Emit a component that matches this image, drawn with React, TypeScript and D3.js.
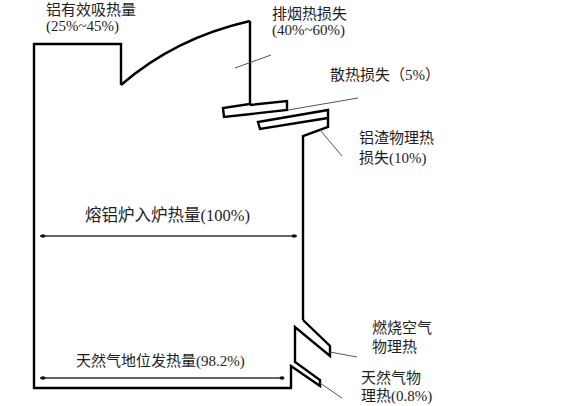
import * as d3 from "d3";
import React from "react";

// flow labels (name, share)
const labelNames = ["铝有效吸热量", "排烟热损失", "散热损失", "铝渣物理热", "燃烧空气", "天然气物"];
const labelShares = ["(25%~45%)", "(40%~60%)", "（5%）", "损失(10%)", "物理热", "理热(0.8%)"];
const inputLabel = "熔铝炉入炉热量(100%)";
const fuelLabel = "天然气地位发热量(98.2%)";

// outline of the schematic, in diagram units
const outlineTop: [number, number][] = [
  [303, 320], [303, 136], [328, 127], [328, 110], [258, 122], [260, 129], [328, 118],
];
const outlineBottom: [number, number][] = [
  [303, 320], [330, 346], [330, 356], [295, 327], [295, 362], [320, 380], [320, 386],
  [291, 366], [291, 388], [34, 388], [34, 44], [121, 44], [121, 85],
];
const exhaustEdge: [number, number][] = [
  [250, 21], [250, 104], [223, 108], [224, 117], [287, 110], [287, 101], [250, 105],
];
const leaders: [number, number, number, number][] = [
  [235, 68, 271, 55],
  [288, 110, 358, 98],
  [320, 130, 342, 156],
  [330, 352, 357, 357],
  [320, 383, 342, 398],
];

function App() {
  const width = 567;
  const height = 406;
  const x = d3.scaleLinear().domain([0, 567]).range([0, width]);
  const y = d3.scaleLinear().domain([0, 406]).range([0, height]);
  const line = d3
    .line<[number, number]>()
    .x((d) => x(d[0]))
    .y((d) => y(d[1]));

  const curvePath = d3.path();
  curvePath.moveTo(x(121), y(85));
  curvePath.quadraticCurveTo(x(175), y(38), x(250), y(21));

  const serif = "'Liberation Serif', 'Noto Sans CJK SC', serif";
  const ink = "#1e1e1e";
  const labelPos: [number, number, number][] = [
    [46, 15, 31],
    [272, 19, 35],
    [330, 80, 80],
    [359, 143, 163],
    [372, 333, 352],
    [361, 383, 401],
  ];

  return (
    <svg
      width={width}
      height={height}
      style={{ position: "absolute", left: 0, top: 0, background: "#fff" }}
    >
      <g fill="none" stroke="#000" strokeWidth={2.4} strokeLinejoin="miter">
        <path d={line(outlineTop) ?? ""} />
        <path d={line(outlineBottom) ?? ""} />
        <path d={line(exhaustEdge) ?? ""} />
        <path d={curvePath.toString()} />
      </g>
      <g stroke="#555" strokeWidth={1}>
        {leaders.map((l, i) => (
          <line key={i} x1={x(l[0])} y1={y(l[1])} x2={x(l[2])} y2={y(l[3])} />
        ))}
      </g>
      {/* dimension lines */}
      <g stroke="#333" strokeWidth={1.3}>
        <line x1={x(40)} y1={y(236)} x2={x(297)} y2={y(236)} />
        <line x1={x(40)} y1={y(378)} x2={x(284)} y2={y(378)} />
      </g>
      <g fill="#111">
        <ellipse cx={x(43)} cy={y(236)} rx={2.5} ry={1.8} />
        <ellipse cx={x(294)} cy={y(236)} rx={2.5} ry={1.8} />
        <ellipse cx={x(43)} cy={y(378)} rx={2.5} ry={1.8} />
        <ellipse cx={x(282)} cy={y(378)} rx={2.5} ry={1.8} />
      </g>
      <g fontFamily={serif} fontSize={15} fill={ink}>
        {labelNames.map((n, i) => {
          const [lx, y1, y2] = labelPos[i];
          if (i === 2) {
            return (
              <text key={i} x={x(lx)} y={y(y1)}>
                {n + labelShares[i]}
              </text>
            );
          }
          return (
            <g key={i}>
              <text x={x(lx)} y={y(y1)}>{n}</text>
              <text x={x(lx)} y={y(y2)}>{labelShares[i]}</text>
            </g>
          );
        })}
        <text x={x(85)} y={y(221)} fontSize={16.5}>{inputLabel}</text>
        <text x={x(76)} y={y(366)}>{fuelLabel}</text>
      </g>
    </svg>
  );
}

export default App;
